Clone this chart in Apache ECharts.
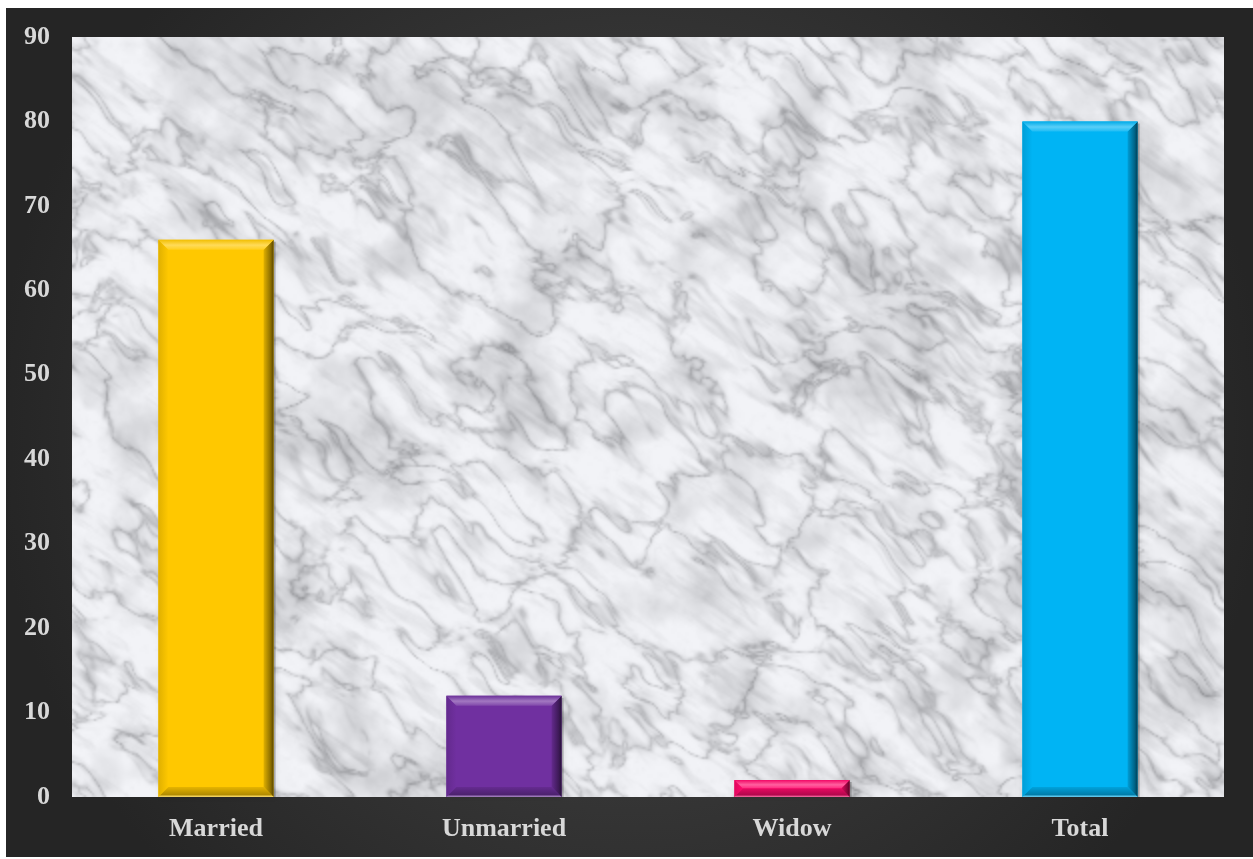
<!DOCTYPE html>
<html>
<head>
<meta charset="utf-8">
<title>Marital status</title>
<script src="https://cdn.jsdelivr.net/npm/echarts@6/dist/echarts.min.js"></script>
<style>
  html, body { margin: 0; padding: 0; background: #ffffff; }
  #chart { position: absolute; left: 6px; top: 8px; width: 1247px; height: 849px; }
</style>
</head>
<body>
<div id="chart"></div>
<script>
// Chart data
const categories = ['Married', 'Unmarried', 'Widow', 'Total'];
const counts = [66, 12, 2, 80];
const barColors = ['#FFC800', '#7030A0', '#FF0A6C', '#00B4F4'];
const yTicks = { min: 0, max: 90, interval: 10 };

// Plot rectangle inside the chart container
const GRID = { left: 66, top: 29, right: 29, bottom: 60 };

// ---- helpers -------------------------------------------------------------
function hexToRgb(h) {
  const n = parseInt(h.slice(1), 16);
  return [(n >> 16) & 255, (n >> 8) & 255, n & 255];
}
function mix(h, target, t) {
  const c = hexToRgb(h);
  const o = c.map(v => Math.round(v + (target - v) * t));
  return 'rgb(' + o.join(',') + ')';
}
const lighten = (h, t) => mix(h, 255, t);
const darken = (h, t) => mix(h, 0, t);

// Deterministic value noise used for the marble plot background
function hash(ix, iy) {
  const s = Math.sin(ix * 127.1 + iy * 311.7) * 43758.5453;
  return s - Math.floor(s);
}
function noise(x, y) {
  const ix = Math.floor(x), iy = Math.floor(y);
  const fx = x - ix, fy = y - iy;
  const ux = fx * fx * (3 - 2 * fx), uy = fy * fy * (3 - 2 * fy);
  const a = hash(ix, iy), b = hash(ix + 1, iy);
  const c = hash(ix, iy + 1), d = hash(ix + 1, iy + 1);
  return a + (b - a) * ux + (c - a) * uy + (a - b - c + d) * ux * uy;
}
function fbm(x, y, oct) {
  let v = 0, amp = 0.5, f = 1, tot = 0;
  for (let i = 0; i < oct; i++) {
    v += amp * noise(x * f, y * f);
    tot += amp; amp *= 0.5; f *= 2.03;
  }
  return v / tot;
}
function marbleCanvas(w, h) {
  const cv = document.createElement('canvas');
  cv.width = w; cv.height = h;
  const ctx = cv.getContext('2d');
  const img = ctx.createImageData(w, h);
  const ca = Math.cos(-0.6), sa = Math.sin(-0.6);
  for (let y = 0; y < h; y++) {
    for (let x = 0; x < w; x++) {
      // rotated coordinates: streaks run bottom-left to top-right
      const a = x * ca - y * sa, b = x * sa + y * ca;
      const blotch = fbm(x / 28, y / 28, 4);
      const warp = fbm(x / 40 + 7.3, y / 40 + 1.9, 3);
      const streak = fbm(a / 22 + warp * 1.5, b / 4.5, 4);
      const r1 = 1 - Math.abs(2 * fbm(a / 30 + warp * 2, b / 14 + warp * 2, 4) - 1);
      const vein = Math.pow(r1, 12);
      const speck = fbm(x / 3, y / 3, 2);
      let g = 243
        - 90 * Math.max(0, blotch - 0.48)
        - 60 * Math.max(0, streak - 0.52)
        - 50 * vein
        - 12 * Math.max(0, speck - 0.6);
      g = Math.max(140, Math.min(248, g));
      const i = (y * w + x) * 4;
      img.data[i] = g - 1;
      img.data[i + 1] = g;
      img.data[i + 2] = g + 4;
      img.data[i + 3] = 255;
    }
  }
  ctx.putImageData(img, 0, 0);
  // soften the stone slightly
  const out = document.createElement('canvas');
  out.width = w; out.height = h;
  const octx = out.getContext('2d');
  octx.filter = 'blur(0.6px)';
  octx.drawImage(cv, 0, 0);
  return out;
}

// ---- chart ---------------------------------------------------------------
const el = document.getElementById('chart');
const chart = echarts.init(el, null, { renderer: 'canvas' });
const W = el.clientWidth, H = el.clientHeight;
const plotW = W - GRID.left - GRID.right, plotH = H - GRID.top - GRID.bottom;
const marble = marbleCanvas(Math.round(plotW / 2), Math.round(plotH / 2));

const labelFont = {
  color: '#d8d8d8',
  fontFamily: '"Liberation Serif", "Times New Roman", serif',
  fontWeight: 'bold',
  fontSize: 26
};

// Beveled bar built from the value axis through api.coord
function renderBevelBar(params, api) {
  const idx = api.value(0);
  const val = api.value(1);
  const top = api.coord([idx, val]);
  const base = api.coord([idx, 0]);
  const band = api.size([1, 0])[0];
  const bw = band * 0.4;
  const x0 = top[0] - bw / 2, x1 = top[0] + bw / 2;
  const y0 = top[1], y1 = base[1];
  const hgt = y1 - y0;
  const b = Math.min(10, hgt / 2, bw / 2);
  const c = barColors[idx];
  return {
    type: 'group',
    children: [
      { // soft shadow
        type: 'rect',
        shape: { x: x0 + 2, y: y0 + 2, width: bw, height: hgt - 2 },
        style: { fill: 'rgba(0,0,0,0.25)', shadowBlur: 6, shadowColor: 'rgba(0,0,0,0.35)' }
      },
      {
        type: 'rect',
        shape: { x: x0, y: y0, width: bw, height: hgt },
        style: { fill: c }
      },
      { // left face
        type: 'polygon',
        shape: { points: [[x0, y0], [x0 + b, y0 + b], [x0 + b, y1 - b], [x0, y1]] },
        style: { fill: { type: 'linear', x: 0, y: 0, x2: 1, y2: 0,
          colorStops: [{ offset: 0, color: darken(c, 0.12) }, { offset: 1, color: c }] } }
      },
      { // right face
        type: 'polygon',
        shape: { points: [[x1, y0], [x1, y1], [x1 - b, y1 - b], [x1 - b, y0 + b]] },
        style: { fill: { type: 'linear', x: 0, y: 0, x2: 1, y2: 0,
          colorStops: [{ offset: 0, color: darken(c, 0.12) }, { offset: 0.7, color: darken(c, 0.45) }, { offset: 1, color: darken(c, 0.65) }] } }
      },
      { // top face
        type: 'polygon',
        shape: { points: [[x0, y0], [x1, y0], [x1 - b, y0 + b], [x0 + b, y0 + b]] },
        style: { fill: { type: 'linear', x: 0, y: 0, x2: 0, y2: 1,
          colorStops: [{ offset: 0, color: darken(c, 0.05) }, { offset: 0.55, color: lighten(c, 0.35) }, { offset: 1, color: lighten(c, 0.12) }] } }
      },
      { // bottom face
        type: 'polygon',
        shape: { points: [[x0, y1], [x1, y1], [x1 - b, y1 - b], [x0 + b, y1 - b]] },
        style: { fill: { type: 'linear', x: 0, y: 0, x2: 0, y2: 1,
          colorStops: [{ offset: 0, color: darken(c, 0.1) }, { offset: 0.75, color: darken(c, 0.3) }, { offset: 1, color: lighten(c, 0.45) }] } }
      }
    ]
  };
}

chart.setOption({
  animation: false,
  backgroundColor: {
    type: 'radial', x: 0.5, y: 0.5, r: 0.75,
    colorStops: [
      { offset: 0, color: '#4a4a4a' },
      { offset: 1, color: '#252525' }
    ]
  },
  graphic: [{
    type: 'image',
    z: -10,
    left: GRID.left,
    top: GRID.top,
    style: { image: marble, x: 0, y: 0, width: plotW, height: plotH }
  }],
  grid: { left: GRID.left, top: GRID.top, right: GRID.right, bottom: GRID.bottom, containLabel: false },
  xAxis: {
    type: 'category',
    data: categories,
    axisLine: { show: false },
    axisTick: { show: false },
    axisLabel: Object.assign({ margin: 19 }, labelFont)
  },
  yAxis: {
    type: 'value',
    min: yTicks.min,
    max: yTicks.max,
    interval: yTicks.interval,
    splitLine: { show: false },
    axisLine: { show: false },
    axisTick: { show: false },
    axisLabel: Object.assign({ margin: 22 }, labelFont)
  },
  series: [{
    type: 'custom',
    renderItem: renderBevelBar,
    encode: { x: 0, y: 1 },
    data: counts.map((v, i) => [i, v]),
    clip: false
  }]
});
</script>
</body>
</html>
